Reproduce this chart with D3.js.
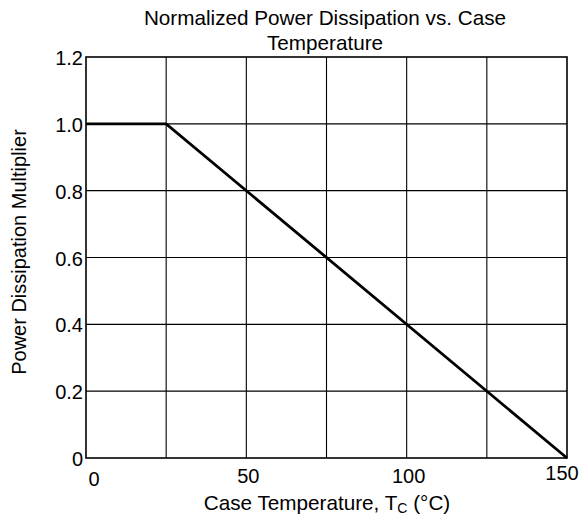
<!DOCTYPE html>
<html>
<head>
<meta charset="utf-8">
<script src="https://cdn.jsdelivr.net/npm/d3@7"></script>
<style>
  body { margin: 0; background: #fff; }
  text { font-family: Arial, "Liberation Sans", sans-serif; fill: #000; }
</style>
</head>
<body>
<svg id="chart" width="582" height="518"></svg>
<script>
// data
let tempC = [0, 25, 150];
let multiplier = [1.0, 1.0, 0.0];
let xTicks = [0, 50, 100, 150];
let yTicks = [0, 0.2, 0.4, 0.6, 0.8, 1.0, 1.2];
let xGrid = [25, 50, 75, 100, 125];
let yGrid = [0.2, 0.4, 0.6, 0.8, 1.0];

// note: "top" is window.top, so use other names
var svg = d3.select("#chart"),
    plotL = 86, plotR = 567, plotT = 57, plotB = 458;

var xScale = d3.scaleLinear().domain([0, 150]).range([plotL, plotR]),
    yScale = d3.scaleLinear().domain([0, 1.2]).range([plotB, plotT]);

// grid
svg.append("g").selectAll("line").data(xGrid).enter().append("line")
    .attr("x1", d => xScale(d)).attr("x2", d => xScale(d))
    .attr("y1", plotT).attr("y2", plotB)
    .attr("stroke", "#000").attr("stroke-width", 1.1);
svg.append("g").selectAll("line").data(yGrid).enter().append("line")
    .attr("x1", plotL).attr("x2", plotR)
    .attr("y1", d => yScale(d)).attr("y2", d => yScale(d))
    .attr("stroke", "#000").attr("stroke-width", 1.1);

// frame
svg.append("rect").attr("x", plotL).attr("y", plotT)
    .attr("width", plotR - plotL).attr("height", plotB - plotT)
    .attr("fill", "none").attr("stroke", "#000").attr("stroke-width", 1.6);

// y tick labels
svg.append("g").selectAll("text").data(yTicks).enter().append("text")
    .attr("x", plotL - 3).attr("y", d => yScale(d) + 8)
    .attr("text-anchor", "end")
    .attr("font-size", 20)
    .text(d => d === 0 ? "0" : d.toFixed(1));

// x tick labels, a bit staggered like the original
var xLabY = [486, 483, 483, 480];
svg.append("g").selectAll("text").data(xTicks).enter().append("text")
    .attr("x", (d, i) => xScale(d) + (i === 0 ? 8 : i === xTicks.length - 1 ? -5 : 2))
    .attr("y", (d, i) => xLabY[i])
    .attr("text-anchor", "middle")
    .attr("font-size", 20)
    .text(d => d);

// curve
var line = d3.line().x(d => xScale(d[0])).y(d => yScale(d[1]));
svg.append("path").datum(d3.zip(tempC, multiplier))
    .attr("d", line).attr("fill", "none")
    .attr("stroke", "#000").attr("stroke-width", 2.8);

// titles
var title = svg.append("text").attr("x", 325).attr("y", 25)
    .attr("text-anchor", "middle").attr("font-size", 20.7);
title.append("tspan").attr("x", 325).text("Normalized Power Dissipation vs. Case");
title.append("tspan").attr("x", 325).attr("dy", 25).text("Temperature");

var xt = svg.append("text").attr("x", 327).attr("y", 510)
    .attr("text-anchor", "middle").attr("font-size", 20.7);
xt.append("tspan").text("Case Temperature, T");
xt.append("tspan").attr("font-size", 14).attr("dy", 3).text("C");
xt.append("tspan").attr("dy", -3).text(" (°C)");

svg.append("text").attr("transform", "translate(26,252) rotate(-90)")
    .attr("text-anchor", "middle").attr("font-size", 20)
    .text("Power Dissipation Multiplier");
</script>
</body>
</html>
